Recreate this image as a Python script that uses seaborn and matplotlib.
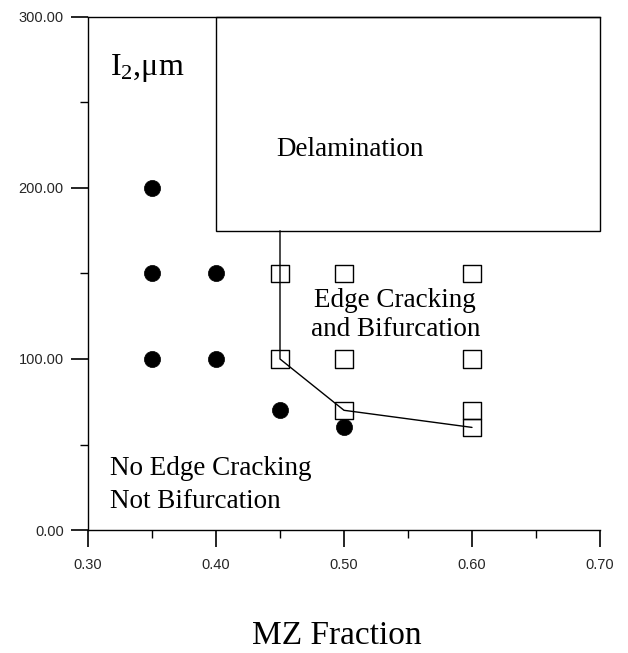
import matplotlib
matplotlib.use("Agg")
import matplotlib.pyplot as plt
import seaborn as sns
from matplotlib.patches import Rectangle
from matplotlib.ticker import MultipleLocator, FormatStrFormatter

sns.set_theme(style="white")
plt.rcParams["font.family"] = ["Liberation Sans", "DejaVu Sans"]
plt.rcParams["mathtext.fontset"] = "custom"
plt.rcParams["mathtext.rm"] = "Liberation Serif"
plt.rcParams["mathtext.it"] = "Liberation Serif"

SERIF = ["Liberation Serif", "DejaVu Serif"]

# No edge cracking (filled circles)
no_crack_x = [0.35, 0.35, 0.35, 0.40, 0.40, 0.45, 0.50]
no_crack_y = [200, 150, 100, 150, 100, 70, 60]

# Edge cracking and bifurcation (open squares)
crack_x = [0.45, 0.45, 0.50, 0.50, 0.50, 0.60, 0.60, 0.60, 0.60]
crack_y = [150, 100, 150, 100, 70, 150, 100, 70, 60]

# Boundary between regimes
bound_x = [0.45, 0.45, 0.50, 0.60]
bound_y = [175, 100, 70, 60]

# Delamination region corners
delam_x = [0.40, 0.70]
delam_y = [175, 300]

x_ticks = [0.30, 0.40, 0.50, 0.60, 0.70]
y_ticks = [0, 100, 200, 300]

fig = plt.figure(figsize=(6.28, 6.53), dpi=100)
ax = fig.add_axes([88 / 628, 1 - 530 / 653, 512 / 628, 513 / 653])

ax.add_patch(Rectangle((delam_x[0], delam_y[0]), delam_x[1] - delam_x[0],
                       delam_y[1] - delam_y[0], fill=False, edgecolor="black",
                       linewidth=1.0, zorder=2, clip_on=False))

sns.lineplot(x=bound_x, y=bound_y, sort=False, estimator=None, errorbar=None,
             color="black", linewidth=1.0, ax=ax, zorder=2)

sns.scatterplot(x=no_crack_x, y=no_crack_y, marker="o", s=135, color="black",
                edgecolor="black", linewidth=0.5, ax=ax, zorder=3)
sns.scatterplot(x=crack_x, y=crack_y, marker="s", s=150, facecolor="none",
                edgecolor="black", linewidth=1.0, ax=ax, zorder=3)

ax.set_xlim(0.30, 0.70)
ax.set_ylim(0, 300)
ax.set_xticks(x_ticks)
ax.set_yticks(y_ticks)
ax.xaxis.set_minor_locator(MultipleLocator(0.05))
ax.yaxis.set_minor_locator(MultipleLocator(50))
ax.xaxis.set_major_formatter(FormatStrFormatter("%.2f"))
ax.yaxis.set_major_formatter(FormatStrFormatter("%.2f"))
ax.tick_params(axis="both", which="major", direction="out", length=12.5,
               width=1.2, color="black", labelsize=10.5, pad=5,
               bottom=True, left=True)
ax.tick_params(axis="both", which="minor", direction="out", length=6,
               width=1.0, color="black", bottom=True, left=True)
ax.tick_params(axis="x", which="major", pad=8)

for side in ["left", "bottom", "top"]:
    ax.spines[side].set_visible(True)
    ax.spines[side].set_color("black")
    ax.spines[side].set_linewidth(1.0)
ax.spines["right"].set_visible(False)

ax.text(0.317, 266, "I$_2$,μm", family=SERIF, fontsize=23, ha="left",
        va="baseline", color="black")
ax.text(0.505, 219, "Delamination", family=SERIF, fontsize=19.5, ha="center",
        va="baseline", color="black")
ax.text(0.54, 130.5, "Edge Cracking", family=SERIF, fontsize=19.5,
        ha="center", va="baseline", color="black")
ax.text(0.54, 113.5, "and Bifurcation", family=SERIF, fontsize=19.5,
        ha="center", va="baseline", color="black")
ax.text(0.317, 32, "No Edge Cracking", family=SERIF, fontsize=19.5,
        ha="left", va="baseline", color="black")
ax.text(0.317, 13, "Not Bifurcation", family=SERIF, fontsize=19.5,
        ha="left", va="baseline", color="black")

ax.set_xlabel("")
ax.set_ylabel("")
fig.text(337 / 628, 9 / 653, "MZ Fraction", family=SERIF, fontsize=24,
         ha="center", va="baseline", color="black")

fig.savefig("out.png", dpi=100, facecolor="white")
